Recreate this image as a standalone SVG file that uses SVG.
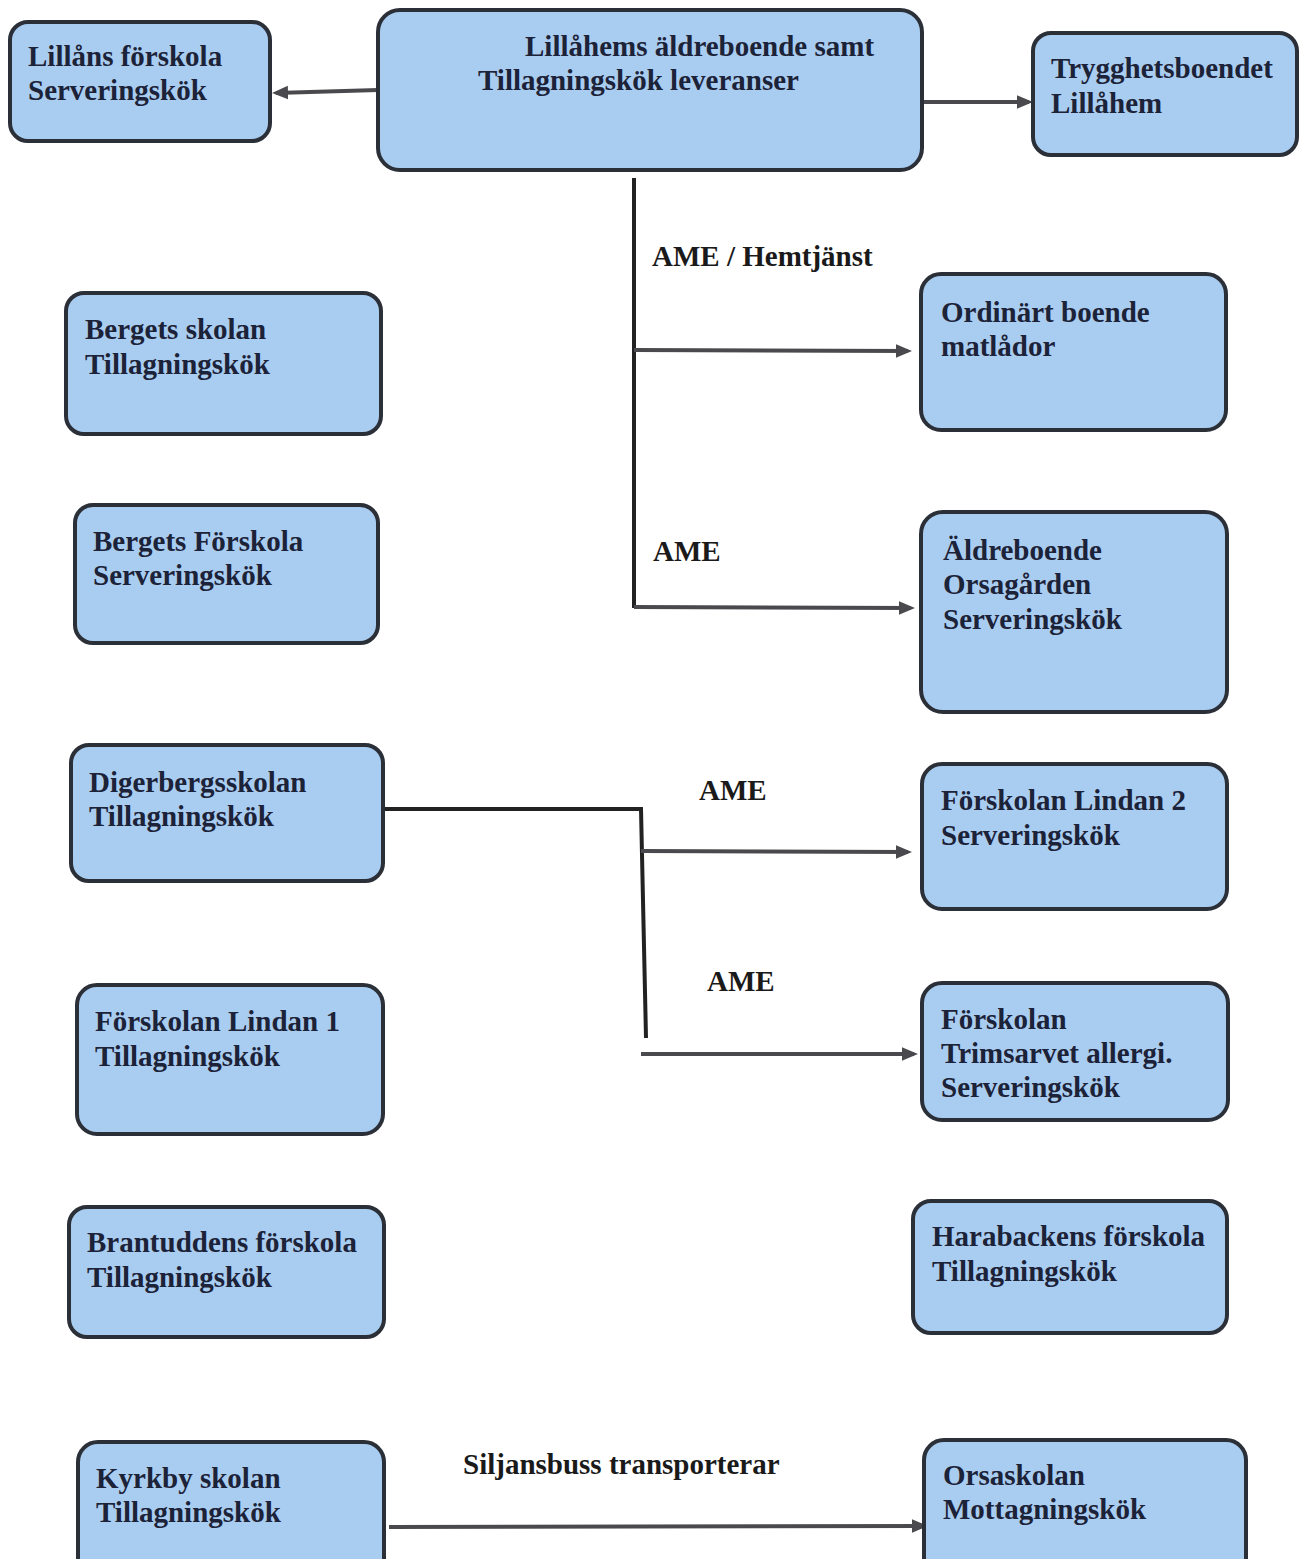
<svg xmlns="http://www.w3.org/2000/svg" width="1304" height="1559" viewBox="0 0 1304 1559">
<style>
.box{fill:#a9cdf0;stroke:#2b2f38;stroke-width:4}
text{font-family:"Liberation Serif","Times New Roman",serif;font-weight:bold;font-size:29px;fill:#1c2238}
.lbl{fill:#1a1a1a}
.ln{stroke:#4a4a4e;stroke-width:4;fill:none}
.vl{stroke:#222;stroke-width:4;fill:none}
</style>
<defs>
<marker id="ah" markerWidth="4" markerHeight="4" refX="3" refY="2" orient="auto" markerUnits="strokeWidth">
<path d="M0,0.3 L4,2 L0,3.7 z" fill="#4a4a4e"/>
</marker>
</defs>
<rect width="1304" height="1559" fill="#fff"/>
<g id="connectors">
<line class="ln" x1="378" y1="90" x2="276" y2="93" marker-end="url(#ah)"/>
<line class="ln" x1="922" y1="102" x2="1029" y2="102" marker-end="url(#ah)"/>
<line class="vl" x1="634" y1="178" x2="634" y2="608"/>
<line class="ln" x1="634" y1="350" x2="908" y2="351" marker-end="url(#ah)"/>
<line class="ln" x1="634" y1="607" x2="911" y2="608" marker-end="url(#ah)"/>
<polyline class="vl" points="383,809 641,809 646,1038"/>
<line class="ln" x1="641" y1="851" x2="908" y2="852" marker-end="url(#ah)"/>
<line class="ln" x1="641" y1="1054" x2="914" y2="1054" marker-end="url(#ah)"/>
<line class="ln" x1="389" y1="1527" x2="924" y2="1526" marker-end="url(#ah)"/>
<text class="lbl" x="652" y="266">AME / Hemtjänst</text>
<text class="lbl" x="653" y="561">AME</text>
<text class="lbl" x="699" y="800">AME</text>
<text class="lbl" x="707" y="991">AME</text>
<text class="lbl" x="463" y="1474">Siljansbuss transporterar</text>
</g>
<g id="n-lillans"><rect class="box" x="10" y="22" width="260" height="119" rx="18"/><text x="28" y="66">Lillåns förskola</text><text x="28" y="100">Serveringskök</text></g>
<g id="n-lillahem"><rect class="box" x="378" y="10" width="544" height="160" rx="22"/><text x="525" y="56">Lillåhems äldreboende samt</text><text x="478" y="90">Tillagningskök leveranser</text></g>
<g id="n-trygghet"><rect class="box" x="1033" y="33" width="264" height="122" rx="18"/><text x="1051" y="78">Trygghetsboendet</text><text x="1051" y="113">Lillåhem</text></g>
<g id="n-bergets-skolan"><rect class="box" x="66" y="293" width="315" height="141" rx="18"/><text x="85" y="339">Bergets skolan</text><text x="85" y="374">Tillagningskök</text></g>
<g id="n-bergets-forskola"><rect class="box" x="75" y="505" width="303" height="138" rx="18"/><text x="93" y="551">Bergets Förskola</text><text x="93" y="585">Serveringskök</text></g>
<g id="n-ordinart"><rect class="box" x="921" y="274" width="305" height="156" rx="20"/><text x="941" y="322">Ordinärt boende</text><text x="941" y="356">matlådor</text></g>
<g id="n-orsagarden"><rect class="box" x="921" y="512" width="306" height="200" rx="22"/><text x="943" y="560">Äldreboende</text><text x="943" y="594">Orsagården</text><text x="943" y="629">Serveringskök</text></g>
<g id="n-digerberg"><rect class="box" x="71" y="745" width="312" height="136" rx="18"/><text x="89" y="792">Digerbergsskolan</text><text x="89" y="826">Tillagningskök</text></g>
<g id="n-lindan2"><rect class="box" x="922" y="764" width="305" height="145" rx="20"/><text x="941" y="810">Förskolan Lindan 2</text><text x="941" y="845">Serveringskök</text></g>
<g id="n-lindan1"><rect class="box" x="77" y="985" width="306" height="149" rx="20"/><text x="95" y="1031">Förskolan Lindan 1</text><text x="95" y="1066">Tillagningskök</text></g>
<g id="n-trimsarvet"><rect class="box" x="922" y="983" width="306" height="137" rx="20"/><text x="941" y="1029">Förskolan</text><text x="941" y="1063">Trimsarvet allergi.</text><text x="941" y="1097">Serveringskök</text></g>
<g id="n-brantudden"><rect class="box" x="69" y="1207" width="315" height="130" rx="18"/><text x="87" y="1252">Brantuddens förskola</text><text x="87" y="1287">Tillagningskök</text></g>
<g id="n-harabacken"><rect class="box" x="913" y="1201" width="314" height="132" rx="18"/><text x="932" y="1246">Harabackens förskola</text><text x="932" y="1281">Tillagningskök</text></g>
<g id="n-kyrkby"><rect class="box" x="78" y="1442" width="306" height="140" rx="20"/><text x="96" y="1488">Kyrkby skolan</text><text x="96" y="1522">Tillagningskök</text></g>
<g id="n-orsaskolan"><rect class="box" x="924" y="1440" width="322" height="142" rx="20"/><text x="943" y="1485">Orsaskolan</text><text x="943" y="1519">Mottagningskök</text></g>
</svg>
